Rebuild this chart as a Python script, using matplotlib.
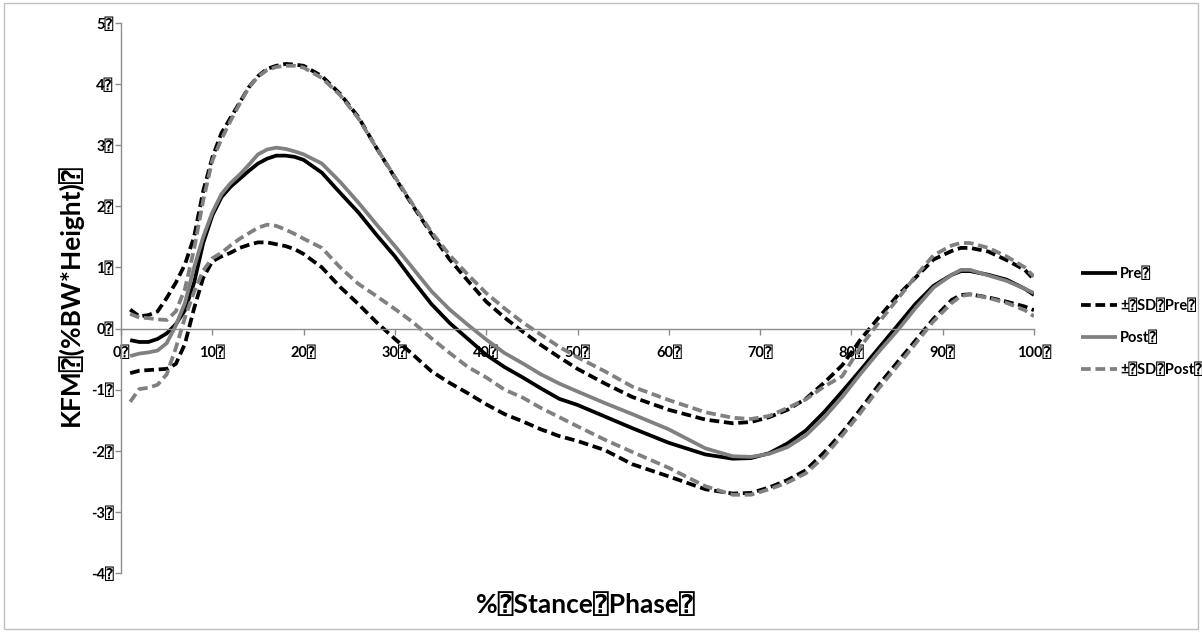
import matplotlib
matplotlib.use("Agg")
import matplotlib.pyplot as plt
from matplotlib.patches import Rectangle

plt.rcParams['font.family'] = ['Lato', 'DejaVu Sans', 'DejaVu Sans Mono']
plt.rcParams['font.weight'] = 'bold'

BOX = "\u2370"

stance = [1, 2, 3, 4, 5, 6, 7, 8, 9, 10, 11, 12, 13, 14, 15, 16, 17, 18, 19, 20,
          22, 24, 26, 28, 30, 32, 34, 36, 38, 40, 42, 44, 46, 48, 50, 53, 56, 60,
          64, 67, 69, 71, 73, 75, 77, 79, 81, 83, 85, 87, 89, 91, 92, 93, 95, 97,
          99, 100]

pre = [-0.19, -0.22, -0.22, -0.17, -0.08, 0.07, 0.30, 0.75, 1.40, 1.85, 2.15, 2.32,
       2.45, 2.58, 2.70, 2.78, 2.83, 2.83, 2.81, 2.76,
       2.55, 2.22, 1.90, 1.53, 1.18, 0.78, 0.40, 0.09, -0.17, -0.43, -0.63, -0.80,
       -0.98, -1.15, -1.25, -1.44, -1.63, -1.87,
       -2.06, -2.13, -2.12, -2.04, -1.88, -1.67, -1.37, -1.03, -0.68, -0.32, 0.04,
       0.40, 0.70, 0.88, 0.94, 0.94, 0.88, 0.80, 0.65, 0.55]

post = [-0.45, -0.41, -0.39, -0.36, -0.24, 0.05, 0.42, 1.00, 1.50, 1.90, 2.20, 2.38,
        2.52, 2.68, 2.85, 2.93, 2.96, 2.94, 2.90, 2.85,
        2.70, 2.40, 2.06, 1.70, 1.35, 0.98, 0.61, 0.31, 0.06, -0.18, -0.40, -0.57,
        -0.75, -0.90, -1.03, -1.22, -1.40, -1.65,
        -1.96, -2.09, -2.10, -2.05, -1.94, -1.75, -1.46, -1.12, -0.74, -0.38, -0.04,
        0.33, 0.67, 0.88, 0.96, 0.96, 0.87, 0.78, 0.65, 0.58]

pre_sd_hi = [0.31, 0.20, 0.22, 0.28, 0.50, 0.75, 1.05, 1.50, 2.25, 2.80, 3.20, 3.45,
             3.70, 3.95, 4.13, 4.25, 4.30, 4.33, 4.32, 4.30,
             4.13, 3.84, 3.46, 2.95, 2.47, 2.00, 1.55, 1.13, 0.78, 0.44, 0.18, -0.05,
             -0.27, -0.47, -0.66, -0.90, -1.12, -1.33,
             -1.49, -1.55, -1.53, -1.45, -1.33, -1.15, -0.89, -0.60, -0.18, 0.18, 0.53,
             0.83, 1.13, 1.27, 1.32, 1.32, 1.26, 1.12, 0.96, 0.80]

pre_sd_lo = [-0.73, -0.69, -0.68, -0.67, -0.66, -0.58, -0.25, 0.33, 0.83, 1.10, 1.18,
             1.24, 1.32, 1.37, 1.41, 1.41, 1.38, 1.35, 1.30, 1.22,
             1.00, 0.68, 0.40, 0.10, -0.17, -0.43, -0.70, -0.89, -1.06, -1.24, -1.40,
             -1.52, -1.65, -1.76, -1.84, -1.99, -2.22, -2.42,
             -2.63, -2.70, -2.69, -2.60, -2.48, -2.32, -2.03, -1.70, -1.32, -0.92, -0.56,
             -0.20, 0.16, 0.47, 0.55, 0.56, 0.51, 0.44, 0.36, 0.30]

post_sd_hi = [0.24, 0.18, 0.17, 0.15, 0.14, 0.28, 0.65, 1.30, 2.10, 2.75, 3.10, 3.40,
              3.68, 3.95, 4.12, 4.23, 4.28, 4.30, 4.30, 4.27,
              4.10, 3.82, 3.44, 2.95, 2.48, 2.02, 1.58, 1.20, 0.88, 0.58, 0.33, 0.10,
              -0.10, -0.30, -0.47, -0.70, -0.95, -1.17,
              -1.37, -1.46, -1.48, -1.43, -1.30, -1.16, -0.95, -0.78, -0.30, 0.10, 0.47,
              0.85, 1.20, 1.36, 1.40, 1.40, 1.32, 1.18, 1.00, 0.85]

post_sd_lo = [-1.20, -0.99, -0.97, -0.92, -0.75, -0.32, 0.18, 0.60, 0.95, 1.15, 1.24,
              1.36, 1.47, 1.56, 1.65, 1.70, 1.68, 1.62, 1.55, 1.47,
              1.32, 1.00, 0.73, 0.53, 0.32, 0.10, -0.16, -0.40, -0.63, -0.80, -1.00,
              -1.13, -1.30, -1.45, -1.60, -1.82, -2.02, -2.28,
              -2.58, -2.72, -2.72, -2.63, -2.52, -2.37, -2.10, -1.75, -1.38, -0.98, -0.62,
              -0.25, 0.12, 0.42, 0.53, 0.56, 0.50, 0.42, 0.30, 0.20]

x_ticks = list(range(0, 101, 10))
y_ticks = list(range(-4, 6))
legend_labels = ["Pre" + BOX, "\u00b1" + BOX + "SD" + BOX + "Pre" + BOX,
                 "Post" + BOX, "\u00b1" + BOX + "SD" + BOX + "Post" + BOX]
x_title = "%" + BOX + "Stance" + BOX + "Phase" + BOX
y_title = "KFM" + BOX + "(%BW*Height)" + BOX

BLACK = "#000000"
GREY = "#808080"
LW = 2.7
DASH = (0, (2.6, 1.25))

fig = plt.figure(figsize=(12.02, 6.32), dpi=100)
fig.patches.append(Rectangle((0.0035, 0.004), 0.993, 0.992, transform=fig.transFigure,
                             fill=False, edgecolor="#bfbfbf", linewidth=1.0))

ax = fig.add_axes([0.1007, 0.0934, 0.7595, 0.8702])

h1, = ax.plot(stance, pre, color=BLACK, lw=LW, solid_capstyle="butt")
h2, = ax.plot(stance, pre_sd_hi, color=BLACK, lw=LW, linestyle=DASH)
ax.plot(stance, pre_sd_lo, color=BLACK, lw=LW, linestyle=DASH)
h3, = ax.plot(stance, post, color=GREY, lw=LW, solid_capstyle="butt")
h4, = ax.plot(stance, post_sd_hi, color=GREY, lw=LW, linestyle=DASH)
ax.plot(stance, post_sd_lo, color=GREY, lw=LW, linestyle=DASH)

ax.set_xlim(0, 100)
ax.set_ylim(-4, 5)
ax.set_xticks(x_ticks)
ax.set_yticks(y_ticks)
ax.set_xticklabels([f"{v}{BOX}" for v in x_ticks])
ax.set_yticklabels([f"{v}{BOX}" for v in y_ticks])

for side in ("top", "right"):
    ax.spines[side].set_visible(False)
ax.spines["bottom"].set_position(("data", 0))
ax.spines["left"].set_position(("data", 0))
for side in ("bottom", "left"):
    ax.spines[side].set_color("#8c8c8c")
    ax.spines[side].set_linewidth(1.0)
ax.tick_params(axis="both", direction="out", length=4, width=1.0, color="#8c8c8c",
               labelsize=10.5, labelcolor="black")
ax.tick_params(axis="x", pad=8)
ax.tick_params(axis="y", pad=1.5)
for t in ax.get_xticklabels() + ax.get_yticklabels():
    t.set_fontweight("bold")

fig.text(0.0590, 0.533, y_title, rotation=90, ha="center", va="center",
         fontsize=19, fontweight="bold")
fig.text(0.487, 0.043, x_title, ha="center", va="center",
         fontsize=19, fontweight="bold")

fig.legend([h1, h2, h3, h4], legend_labels, loc="upper left",
           bbox_to_anchor=(0.899, 0.578), frameon=False,
           handlelength=2.5, handletextpad=0.2, labelspacing=1.2,
           prop={"weight": "bold", "size": 10.5}, borderpad=0, borderaxespad=0)

fig.savefig("out.png", dpi=100)
